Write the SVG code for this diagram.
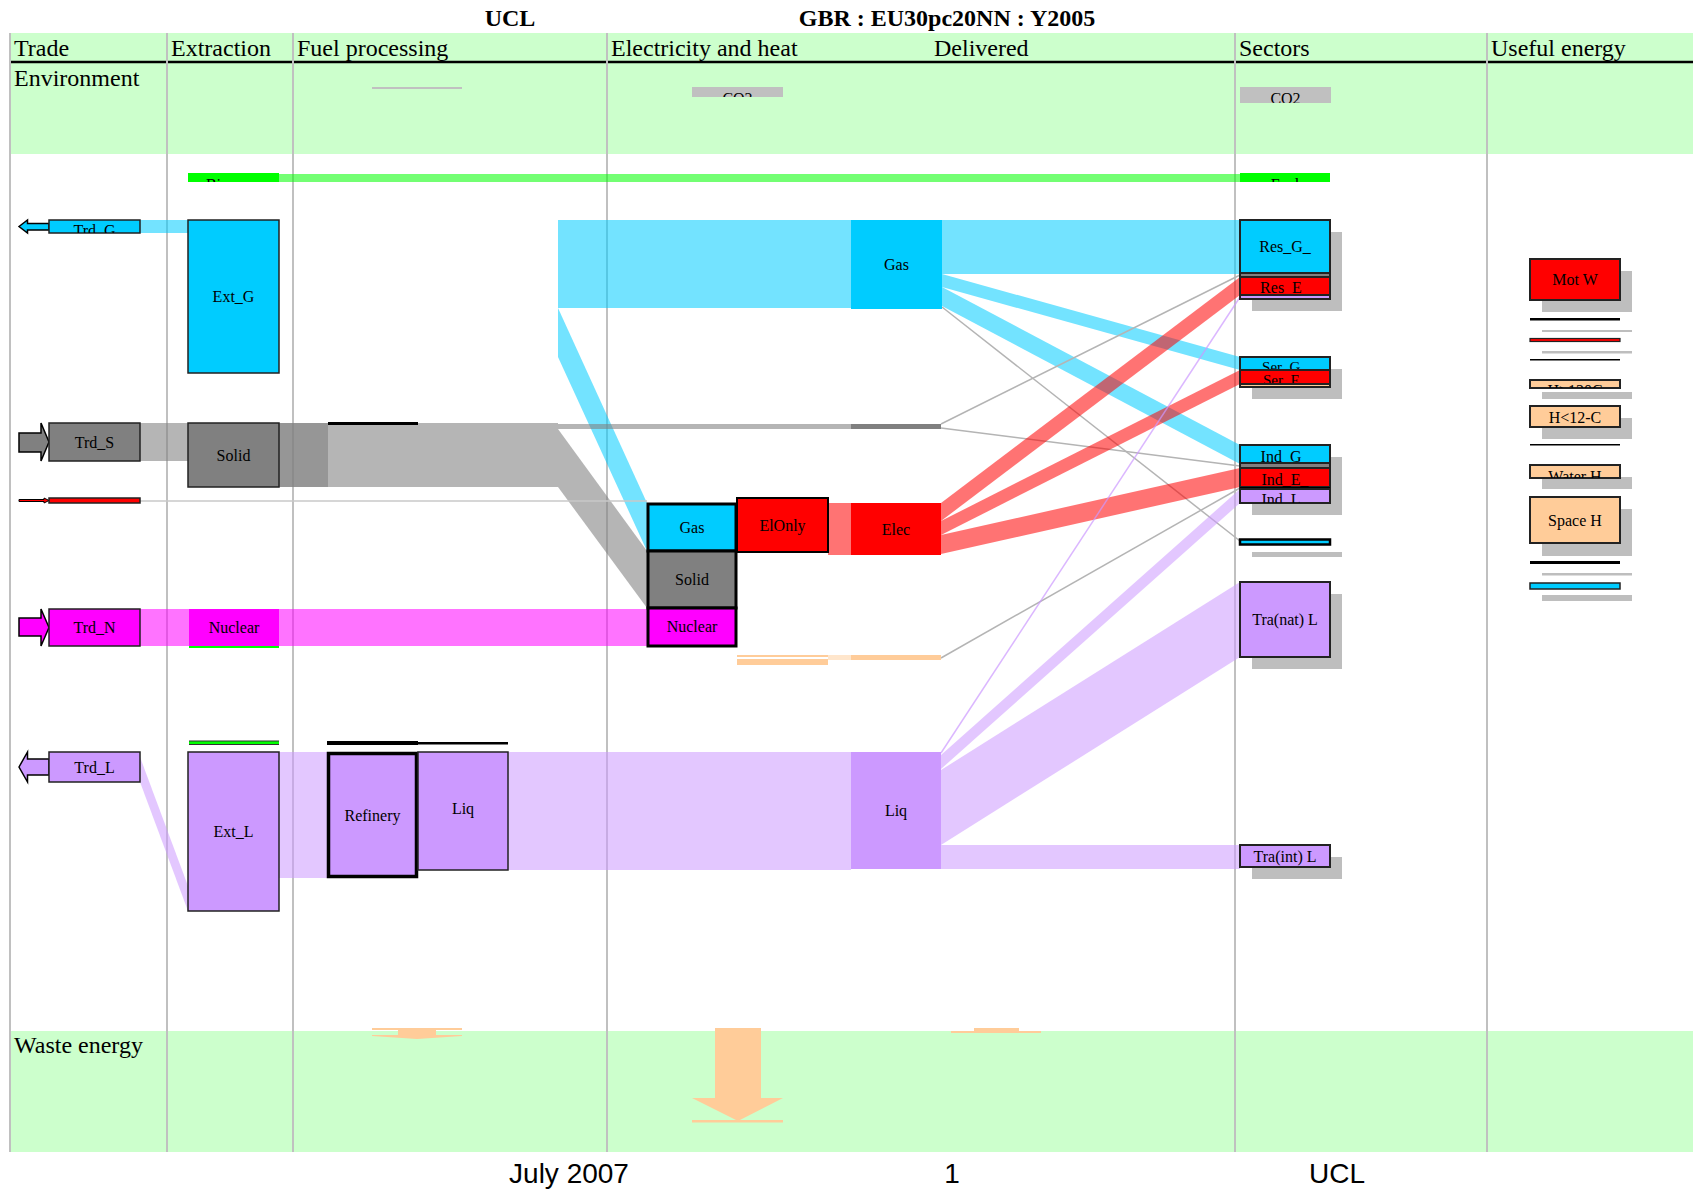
<svg xmlns="http://www.w3.org/2000/svg" width="1693" height="1191" viewBox="0 0 1693 1191">
<style>
.lbl{font-family:"Liberation Serif","Times New Roman",serif;font-size:16px;text-anchor:middle;fill:#000}
.hdr{font-family:"Liberation Serif","Times New Roman",serif;font-size:24px;fill:#000}
.ttl{font-family:"Liberation Serif","Times New Roman",serif;font-size:24px;font-weight:bold;text-anchor:middle}
.ftr{font-family:"Liberation Sans",Arial,sans-serif;font-size:28px;text-anchor:middle}
.band{fill:#ccffcc}
.vl{stroke:#c0c0c0;stroke-width:2}
.fG{fill:#00ccff;fill-opacity:.55}
.fS{fill:#808080;fill-opacity:.58}
.fE{fill:#ff0000;fill-opacity:.55}
.fL{fill:#cc99ff;fill-opacity:.55}
.fN{fill:#ff00ff;fill-opacity:.55}
.fB{fill:#00ff00;fill-opacity:.55}
.ln{stroke:#b4b4b4;stroke-width:1.5;fill:none}
.lnL{stroke:#cc99ff;stroke-opacity:.7;stroke-width:1.5;fill:none}
.shd{fill:#bebebe}
.bx{stroke:#222;stroke-width:2}
.b1{stroke:#222;stroke-width:1.5}
.b3{stroke:#000;stroke-width:3}
.gas{fill:#00ccff}.sol{fill:#808080}.ele{fill:#ff0000}.liq{fill:#cc99ff}.nuc{fill:#ff00ff}.hea{fill:#ffcc99}.bio{fill:#00ff00}.co2{fill:#c0c0c0}
.arr{stroke:#000;stroke-width:1.5}
.wst{fill:#ffcc99}
.sm{font-size:15px}
</style>
<rect x="0" y="0" width="1693" height="1191" fill="#fff"/>
<g id="frame">
<rect class="band" x="10" y="33" width="1683" height="29"/>
<rect class="band" x="10" y="62" width="1683" height="92"/>
<rect class="band" x="10" y="1031" width="1683" height="121"/>
<line x1="10" y1="62" x2="1693" y2="62" stroke="#000" stroke-width="2.5"/>
<line class="vl" x1="10" y1="33" x2="10" y2="1152"/>
<line class="vl" x1="167" y1="33" x2="167" y2="1152"/>
<line class="vl" x1="293" y1="33" x2="293" y2="1152"/>
<line class="vl" x1="607" y1="33" x2="607" y2="1152"/>
<line class="vl" x1="1235" y1="33" x2="1235" y2="1152"/>
<line class="vl" x1="1487" y1="33" x2="1487" y2="1152"/>
<text class="ttl" x="510" y="26">UCL</text>
<text class="ttl" x="947" y="26">GBR : EU30pc20NN : Y2005</text>
<text class="hdr" x="14" y="56">Trade</text>
<text class="hdr" x="171" y="56">Extraction</text>
<text class="hdr" x="297" y="56">Fuel processing</text>
<text class="hdr" x="611" y="56">Electricity and heat</text>
<text class="hdr" x="934" y="56">Delivered</text>
<text class="hdr" x="1239" y="56">Sectors</text>
<text class="hdr" x="1491" y="56">Useful energy</text>
<text class="hdr" x="14" y="86">Environment</text>
<text class="hdr" x="14" y="1053">Waste energy</text>
<text class="ftr" x="569" y="1183">July 2007</text>
<text class="ftr" x="952" y="1183">1</text>
<text class="ftr" x="1337" y="1183">UCL</text>
</g>
<g id="connectors">
<rect class="fB" x="279" y="174" width="961" height="8"/>
<rect class="fG" x="140" y="220" width="48" height="13"/>
<rect class="fG" x="558" y="220" width="293" height="88"/>
<polygon class="fG" points="558,308 647,503 647,551 558,357"/>
<rect class="fG" x="942" y="220" width="298" height="54"/>
<polygon class="fG" points="942,274 1240,357 1240,370 942,287"/>
<polygon class="fG" points="942,287 1240,445 1240,464 942,306"/>
<line class="ln" x1="942" y1="307" x2="1240" y2="541"/>
<rect class="fS" x="140" y="423" width="48" height="38"/>
<rect class="fS" x="279" y="423" width="49" height="64"/>
<rect class="fS" x="279" y="423" width="279" height="64"/>
<rect class="fS" x="558" y="424" width="293" height="5"/>
<polygon class="fS" points="558,429 647,551 647,608 558,487"/>
<line class="ln" x1="941" y1="424" x2="1240" y2="275"/>
<line class="ln" x1="941" y1="428" x2="1240" y2="466"/>
<line x1="140" y1="501" x2="647" y2="501" stroke="#c8c8c8" stroke-width="1.5"/>
<rect class="fN" x="140" y="609" width="507" height="37"/>
<rect class="fE" x="828" y="503" width="23" height="52"/>
<polygon class="fE" points="941,503 1240,277 1240,295 941,521"/>
<polygon class="fE" points="941,521 1240,370 1240,384 941,535"/>
<polygon class="fE" points="941,535 1240,468 1240,487 941,554"/>
<rect fill="#ffcc99" x="737" y="655" width="91" height="2"/>
<rect fill="#ffcc99" x="737" y="659" width="91" height="6"/>
<rect fill="#ffe6cc" x="828" y="655" width="23" height="5"/>
<line class="ln" x1="941" y1="658" x2="1240" y2="488"/>
<polygon class="fL" points="140,757 140,782 188,911 188,886"/>
<rect class="fL" x="279" y="752" width="48" height="126"/>
<rect class="fL" x="508" y="752" width="343" height="118"/>
<line class="lnL" x1="941" y1="753" x2="1240" y2="297"/>
<polygon class="fL" points="941,755 1240,489 1240,503 941,769"/>
<polygon class="fL" points="941,770 1240,582 1240,657 941,845"/>
<rect class="fL" x="941" y="845" width="299" height="24"/>
<g id="waste">
<rect class="wst" x="372" y="1028" width="90" height="2"/>
<polygon class="wst" points="398,1030 436,1030 436,1035 462,1035 462,1036 417,1039 372,1036 372,1035 398,1035"/>
<polygon class="wst" points="715,1028 761,1028 761,1098 783,1098 738,1121 692,1098 715,1098"/>
<rect class="wst" x="692" y="1120" width="91" height="2.5"/>
<rect class="wst" x="974" y="1028" width="45" height="4"/>
<rect class="wst" x="951" y="1031" width="90" height="2"/>
</g>
</g>
<g id="env-fuel"><rect class="co2" x="372" y="87" width="90" height="2"/></g>
<g id="env-elec-co2"><rect class="co2" x="692" y="87" width="91" height="10"/><svg x="692" y="87" width="91" height="10"><text class="lbl" x="45.5" y="17">CO2</text></svg></g>
<g id="env-sec-co2"><rect class="co2" x="1240" y="87" width="91" height="16"/><svg x="1240" y="87" width="91" height="16"><text class="lbl" x="45.5" y="17">CO2</text></svg></g>
<g id="ext-bio"><rect class="bio" x="188" y="173" width="91" height="9"/><svg x="188" y="173" width="91" height="9"><text class="lbl" x="45.5" y="17">Biomass</text></svg></g>
<g id="sec-fuel"><rect class="bio" x="1240" y="173" width="90" height="9"/><svg x="1240" y="173" width="90" height="9"><text class="lbl" x="45" y="17">Fuel</text></svg></g>
<g id="trd-g"><polygon class="gas arr" points="19,226.5 27.5,220 27.5,223.5 49,223.5 49,230 27.5,230 27.5,233"/><rect class="gas b1" x="49" y="220" width="91" height="13"/><svg x="49" y="220" width="91" height="13"><text class="lbl" x="45.5" y="15.5">Trd_G</text></svg></g>
<g id="ext-g"><rect class="gas b1" x="188" y="220" width="91" height="153"/><text class="lbl" x="233.5" y="302">Ext_G</text></g>
<g id="trd-s"><polygon class="sol arr" points="19,433 41,433 41,423 49,442 41,461 41,452 19,452"/><rect class="sol b1" x="49" y="423" width="91" height="38"/><text class="lbl" x="94.5" y="447.5">Trd_S</text></g>
<g id="ext-s"><rect class="sol b1" x="188" y="423" width="91" height="64"/><text class="lbl" x="233.5" y="461">Solid</text></g>
<g id="proc-s"><rect x="328" y="422" width="90" height="3" fill="#000"/></g>
<g id="trd-e"><polygon class="ele" stroke="#000" stroke-width="1" points="19,499.5 44,499.5 44,498 49,500.5 44,503 44,501.5 19,501.5"/><rect class="ele b1" x="49" y="498" width="91" height="5"/></g>
<g id="trd-n"><polygon class="nuc arr" points="19,618 41,618 41,609 49,627.5 41,646 41,636 19,636"/><rect class="nuc b1" x="49" y="609" width="91" height="37"/><text class="lbl" x="94.5" y="633">Trd_N</text></g>
<g id="ext-n"><rect class="nuc" x="189" y="609" width="90" height="37"/><rect class="bio" x="189" y="646" width="90" height="2"/><text class="lbl" x="234" y="633">Nuclear</text></g>
<g id="trd-l"><polygon class="liq arr" points="19,767 27.5,752 27.5,759 49,759 49,775 27.5,775 27.5,782"/><rect class="liq b1" x="49" y="752" width="91" height="30"/><text class="lbl" x="94.5" y="772.5">Trd_L</text></g>
<g id="ext-bio2"><rect x="189" y="740.5" width="90" height="4.5" fill="#333"/><rect class="bio" x="189" y="741.5" width="90" height="2.5"/></g>
<g id="ext-l"><rect class="liq b1" x="188" y="752" width="91" height="159"/><text class="lbl" x="233.5" y="837">Ext_L</text></g>
<g id="refinery"><rect x="327" y="741" width="91" height="4" fill="#000"/><rect class="liq" stroke="#000" stroke-width="3.5" x="328.5" y="753.5" width="88" height="123"/><text class="lbl" x="372.5" y="820.5">Refinery</text></g>
<g id="proc-liq"><rect x="418" y="742" width="90" height="2.5" fill="#000"/><rect class="liq b1" x="418" y="752" width="90" height="118"/><text class="lbl" x="463" y="814">Liq</text></g>
<g id="el-gas"><rect class="gas b3" x="648" y="504" width="88" height="47"/><text class="lbl" x="692" y="533">Gas</text></g>
<g id="el-solid"><rect class="sol b3" x="648" y="551" width="88" height="57"/><text class="lbl" x="692" y="585">Solid</text></g>
<g id="el-nuc"><rect class="nuc b3" x="648" y="608" width="88" height="38"/><text class="lbl" x="692" y="632">Nuclear</text></g>
<g id="elonly"><rect class="ele" stroke="#000" stroke-width="2" x="737" y="498" width="91" height="54"/><text class="lbl" x="782.5" y="530.5">ElOnly</text></g>
<g id="del-gas"><rect class="gas" x="851" y="220" width="91" height="89"/><text class="lbl" x="896.5" y="270">Gas</text></g>
<g id="del-solid"><rect class="sol" x="851" y="424" width="90" height="5"/></g>
<g id="del-elec"><rect class="ele" x="851" y="503" width="90" height="52"/><text class="lbl" x="896" y="534.5">Elec</text></g>
<g id="del-heat"><rect class="hea" x="851" y="655" width="90" height="5"/></g>
<g id="del-liq"><rect class="liq" x="851" y="752" width="90" height="117"/><text class="lbl" x="896" y="816">Liq</text></g>
<g id="res">
<rect class="shd" x="1252" y="232" width="90" height="79"/>
<rect class="gas bx" x="1240" y="220" width="90" height="53"/><text class="lbl" x="1285" y="252">Res_G_</text>
<rect class="sol bx" x="1240" y="273" width="90" height="4"/>
<rect class="ele bx" x="1240" y="277" width="90" height="18"/><svg x="1240" y="277" width="90" height="18"><text class="lbl" x="45" y="16">Res_E_</text></svg>
<rect class="liq bx" x="1240" y="295" width="90" height="4"/>
</g>
<g id="ser">
<rect class="shd" x="1252" y="369" width="90" height="30"/>
<rect class="gas bx" x="1240" y="357" width="90" height="13"/><svg x="1240" y="357" width="90" height="13"><text class="lbl sm" x="45" y="15">Ser_G_</text></svg>
<rect class="ele bx" x="1240" y="370" width="90" height="14"/><svg x="1240" y="370" width="90" height="14"><text class="lbl sm" x="45" y="15">Ser_E_</text></svg>
<rect class="hea bx" x="1240" y="384" width="90" height="3"/>
</g>
<g id="ind">
<rect class="shd" x="1252" y="457" width="90" height="58"/>
<rect class="gas bx" x="1240" y="445" width="90" height="18"/><svg x="1240" y="445" width="90" height="18"><text class="lbl" x="45" y="17">Ind_G_</text></svg>
<rect class="sol bx" x="1240" y="463" width="90" height="5"/>
<rect class="ele bx" x="1240" y="468" width="90" height="19"/><svg x="1240" y="468" width="90" height="19"><text class="lbl" x="45" y="17">Ind_E_</text></svg>
<rect x="1240" y="487" width="90" height="2" fill="#000"/>
<rect class="liq bx" x="1240" y="489" width="90" height="14"/><svg x="1240" y="489" width="90" height="14"><text class="lbl" x="45" y="16">Ind_L_</text></svg>
</g>
<g id="sec-other"><rect class="shd" x="1252" y="552" width="90" height="5"/><rect class="gas" stroke="#000" stroke-width="2.5" x="1240" y="539.5" width="90" height="5"/></g>
<g id="tra-nat"><rect class="shd" x="1252" y="594" width="90" height="75"/><rect class="liq bx" x="1240" y="582" width="90" height="75"/><text class="lbl" x="1285" y="625">Tra(nat) L</text></g>
<g id="tra-int"><rect class="shd" x="1252" y="857" width="90" height="22"/><rect class="liq bx" x="1240" y="845" width="90" height="22"/><text class="lbl" x="1285" y="861.5">Tra(int) L</text></g>
<g id="mot-w"><rect class="shd" x="1542" y="271" width="90" height="41"/><rect class="ele bx" x="1530" y="259" width="90" height="41"/><text class="lbl" x="1575" y="285">Mot W</text></g>
<g id="ue-1"><rect class="shd" x="1542" y="330" width="90" height="2"/><rect x="1530" y="318" width="90" height="2.5" fill="#000"/></g>
<g id="ue-2"><rect class="shd" x="1542" y="351" width="90" height="2.5"/><rect class="ele" stroke="#222" stroke-width="1.2" x="1530" y="338.5" width="90" height="3"/></g>
<g id="ue-3"><rect x="1530" y="359" width="90" height="1.5" fill="#000"/></g>
<g id="h-120c"><rect class="shd" x="1542" y="392" width="90" height="7"/><rect class="hea bx" x="1530" y="380" width="90" height="8"/><svg x="1530" y="380" width="90" height="8"><text class="lbl" x="45" y="16">H&gt;120C</text></svg></g>
<g id="h-12c"><rect class="shd" x="1542" y="418" width="90" height="21"/><rect class="hea bx" x="1530" y="406" width="90" height="21"/><text class="lbl" x="1575" y="422.5">H&lt;12-C</text></g>
<g id="ue-4"><rect x="1530" y="444" width="90" height="1.5" fill="#000"/></g>
<g id="water-h"><rect class="shd" x="1542" y="477" width="90" height="12"/><rect class="hea bx" x="1530" y="465" width="90" height="13"/><svg x="1530" y="465" width="90" height="13"><text class="lbl" x="45" y="17">Water H</text></svg></g>
<g id="space-h"><rect class="shd" x="1542" y="509" width="90" height="47"/><rect class="hea bx" x="1530" y="497" width="90" height="46"/><text class="lbl" x="1575" y="525.5">Space H</text></g>
<g id="ue-5"><rect class="shd" x="1542" y="573" width="90" height="2.5"/><rect x="1530" y="561" width="90" height="3" fill="#000"/></g>
<g id="ue-6"><rect class="shd" x="1542" y="595" width="90" height="6"/><rect class="gas" stroke="#222" stroke-width="1.5" x="1530" y="583" width="90" height="6"/></g>
</svg>
